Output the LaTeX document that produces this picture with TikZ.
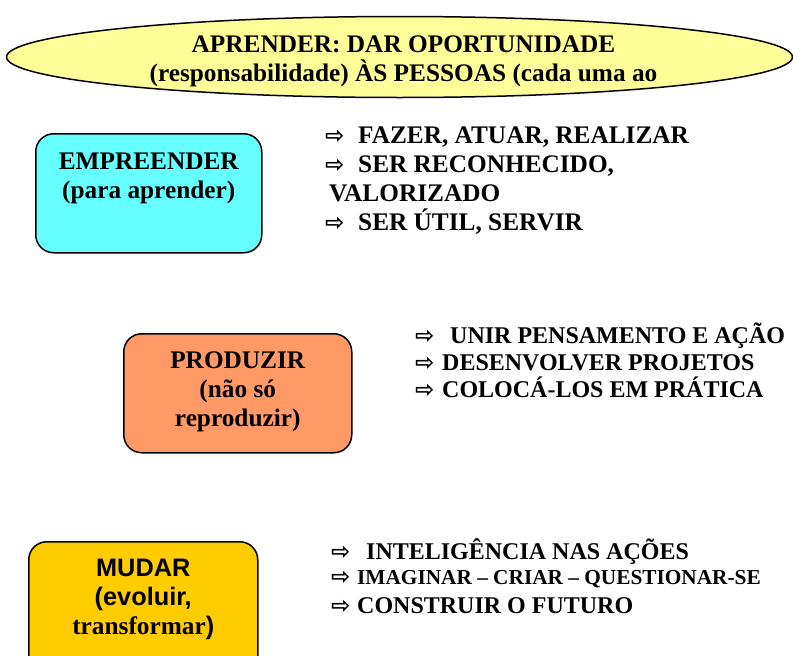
\documentclass[tikz,border=0pt]{standalone}
\usepackage{fontspec}
\setmainfont{Liberation Serif}
\setsansfont{Liberation Sans}
\newfontfamily\arrowfont{DejaVu Sans}
\usetikzlibrary{shapes.geometric,positioning}
\definecolor{ovalyellow}{RGB}{255,255,153}
\definecolor{boxcyan}{RGB}{102,255,255}
\definecolor{boxorange}{RGB}{255,153,102}
\definecolor{boxgold}{RGB}{255,204,0}
\newcommand{\seta}[1]{\makebox[#1][l]{\arrowfont\fontsize{23}{23}\selectfont ⇨}}
\begin{document}
\begin{tikzpicture}[x=1pt,y=-1pt,
		box/.style={draw, line width=1.5pt, rounded corners=18pt, anchor=north west, minimum width=228pt, minimum height=119pt},
		boxtext/.style={align=center, inner sep=0pt, font=\bfseries\fontsize{25.3}{29}\selectfont},
		item/.style={anchor=base west, inner sep=0pt, font=\bfseries\fontsize{25.3}{29}\selectfont},
		small/.style={font=\bfseries\fontsize{24}{28}\selectfont}]
			\useasboundingbox (0,0) rectangle (793,656);
			\clip (0,0) rectangle (793,656);
			\node (titulo) [ellipse, draw, line width=1.5pt, fill=ovalyellow, minimum width=786pt, minimum height=81pt] at (399.5,57) {};
			\node (tt) [boxtext] at ([xshift=4pt,yshift=-4pt]titulo.center) {APRENDER: DAR OPORTUNIDADE\\(responsabilidade) ÀS PESSOAS (cada uma ao};
			% caixas
			\node (b1) [box, fill=boxcyan, minimum width=226pt] at (35,133) {};
			\node (b2) [box, fill=boxorange] at (123,333) {};
			\node (b3) [box, fill=boxgold, minimum width=229pt, minimum height=135pt] at (28,541) {};
			\node (t1) [boxtext, below=20pt of b1.north] {EMPREENDER\\(para aprender)};
			\node (t2) [boxtext, below=19pt of b2.north] {PRODUZIR\\(não só\\reproduzir)};
			\node (t3) [boxtext, below=18pt of b3.north] {\textsf{MUDAR}\\\textsf{(evoluir,}\\transformar\textsf{)}};
			% listas
			\node (e1) [item] at (325,143) {\seta{33pt}FAZER, ATUAR, REALIZAR};
			\node (e2) [item] at (325,172) {\seta{33pt}SER RECONHECIDO,};
			\node (e3) [item] at (329,201) {VALORIZADO};
			\node (e4) [item] at (325,230) {\seta{33pt}SER ÚTIL, SERVIR};
			\node (p1) [item, small] at (415,343) {\seta{35pt}UNIR PENSAMENTO E AÇÃO};
			\node (p2) [item, small] at (415,370) {\seta{27pt}DESENVOLVER PROJETOS};
			\node (p3) [item, small] at (415,397) {\seta{27pt}COLOCÁ-LOS EM PRÁTICA};
			\node (m1) [item, small] at (331,559) {\seta{35pt}INTELIGÊNCIA NAS AÇÕES};
			\node (m2) [item, font=\bfseries\fontsize{21.3}{25}\selectfont] at (331,584) {\seta{26pt}IMAGINAR – CRIAR – QUESTIONAR-SE};
			\node (m3) [item, small] at (331,613) {\seta{26pt}CONSTRUIR O FUTURO};
		\end{tikzpicture}
\end{document}
